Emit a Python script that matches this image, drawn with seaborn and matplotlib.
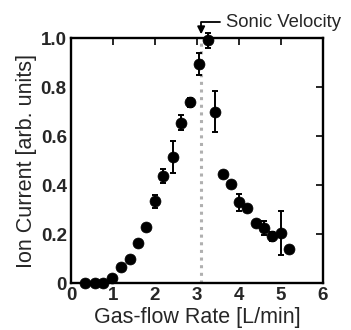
import matplotlib
matplotlib.use("Agg")
import matplotlib.pyplot as plt
import seaborn as sns
import numpy as np
import pandas as pd

flow = [0.33, 0.56, 0.77, 0.98, 1.2, 1.4, 1.59, 1.79, 2.0, 2.2, 2.42, 2.63, 2.83,
        3.05, 3.27, 3.44, 3.63, 3.81, 4.0, 4.2, 4.4, 4.6, 4.78, 5.0, 5.19]
current = [0.0, 0.0, 0.0, 0.02, 0.064, 0.10, 0.165, 0.227, 0.333, 0.437, 0.515, 0.655, 0.737,
           0.895, 0.99, 0.70, 0.444, 0.404, 0.33, 0.305, 0.245, 0.225, 0.19, 0.205, 0.14]
err = [0.0, 0.0, 0.0, 0.0, 0.0, 0.0, 0.0, 0.0, 0.025, 0.03, 0.065, 0.03, 0.02,
       0.045, 0.03, 0.085, 0.0, 0.0, 0.035, 0.0, 0.0, 0.03, 0.02, 0.09, 0.0]
sonic_x = 3.1
xticks = [0, 1, 2, 3, 4, 5, 6]
yticks = [0, 0.2, 0.4, 0.6, 0.8, 1.0]
yticklabels = ["0", "0.2", "0.4", "0.6", "0.8", "1.0"]

sns.set_style("white")
plt.rcParams['font.family'] = ['Liberation Sans', 'DejaVu Sans']

df = pd.DataFrame({"flow": flow, "current": current, "err": err})

fig = plt.figure(figsize=(3.51, 3.30), dpi=100)
ax = fig.add_axes([0.2023, 0.1424, 0.7177, 0.7424])

ax.plot([sonic_x, sonic_x], [0, 1.0], linestyle=(0, (1, 1.5)), color="#b0b0b0", lw=2.2, zorder=1)
ax.errorbar(df["flow"], df["current"], yerr=df["err"], fmt="none", ecolor="black",
            elinewidth=1.4, capsize=2, capthick=1.4, zorder=2, clip_on=False)
sns.scatterplot(data=df, x="flow", y="current", ax=ax, color="black", s=62,
                edgecolor="black", linewidth=0.5, zorder=3, clip_on=False)

ax.set_xlim(0, 6)
ax.set_ylim(0, 1.0)
ax.set_xticks(xticks)
ax.set_yticks(yticks)
ax.set_yticklabels(yticklabels)
ax.tick_params(direction="in", length=5, width=1.4, labelsize=13.5, top=True, right=True, pad=3)
for lbl in ax.get_xticklabels() + ax.get_yticklabels():
    lbl.set_fontweight("bold")
for s in ax.spines.values():
    s.set_linewidth(1.7)
    s.set_color("black")
    s.set_visible(True)
ax.set_xlabel("Gas-flow Rate [L/min]", fontsize=15.5, labelpad=2)
ax.set_ylabel("Ion Current [arb. units]", fontsize=15.5, labelpad=3)

ax.annotate("Sonic Velocity", xy=(sonic_x, 1.015), xycoords="data",
            xytext=(3.7, 1.065), textcoords="data", fontsize=13.3, va="center", ha="left",
            arrowprops=dict(arrowstyle="-|>", color="black", lw=1.3,
                            connectionstyle="angle,angleA=0,angleB=90,rad=0",
                            shrinkA=2, shrinkB=0, mutation_scale=11),
            annotation_clip=False)

fig.savefig("out.png", dpi=100)
